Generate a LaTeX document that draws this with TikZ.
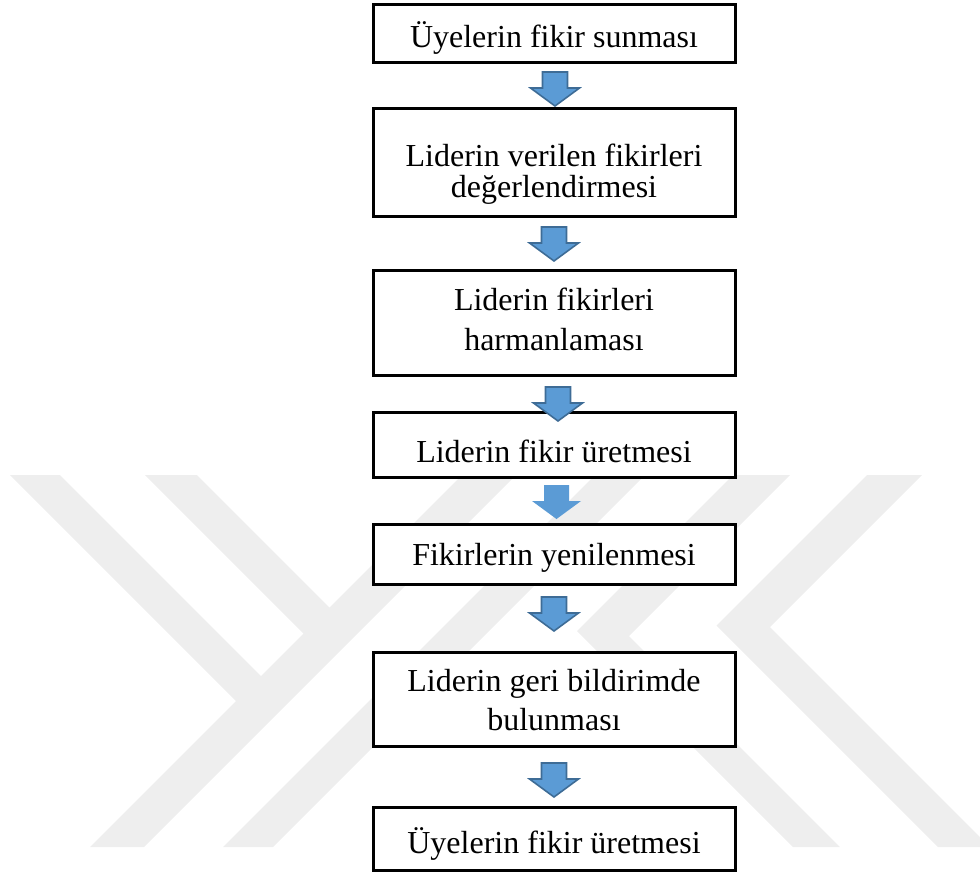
\documentclass[tikz,border=0pt]{standalone}
\usepackage{fontspec}
\setmainfont{Liberation Serif}
\usetikzlibrary{calc}
\definecolor{wm}{RGB}{238,238,238}
\definecolor{arrfill}{RGB}{91,155,213}
\definecolor{arrline}{RGB}{62,108,150}
\tikzset{
  box/.style={draw=black, line width=3pt, fill=white, minimum width=362pt, inner sep=0pt, outer sep=0pt},
  boxtext/.style={anchor=base, align=center, inner sep=0pt, font=\fontsize{32}{38}\selectfont},
  wmark/.style={fill=wm, draw=none},
  darrow/.style={fill=arrfill, draw=arrline, line width=1.6pt, line join=miter},
  softarrow/.style={fill=arrfill, draw=none},
  pics/downarrow/.style={code={\path[#1] (-12.5,0) -- (12.5,0) -- (12.5,16) -- (24.5,16) -- (0,34) -- (-24.5,16) -- (-12.5,16) -- cycle;}},
}
\begin{document}
\begin{tikzpicture}[x=1pt,y=-1pt]
\useasboundingbox (0,0) rectangle (980,873);
% watermark
\begin{scope}
  \clip (0,0) rectangle (980,873);
  \path[wmark] (90,847) -- (144,847) -- (516,475) -- (462,475) -- cycle;
  \path[wmark] (10,475) -- (60,475) -- (272.5,687.5) -- (247.5,712.5) -- cycle;
  \path[wmark] (145,475) -- (197,475) -- (341,619) -- (315,645) -- cycle;
  \path[wmark] (223,847) -- (273,847) -- (645,475) -- (595,475) -- cycle;
  \path[wmark] (867,475) -- (922,475) -- (770,627) -- (990,847) -- (938,847) -- (716.5,625.5) -- cycle;
  \path[wmark] (733,475) -- (790,475) -- (629,636) -- (840,847) -- (793,847) -- (577,631) -- cycle;
\end{scope}
% boxes
\node[box, minimum height=58pt]  (b1) at (554,33)    {};
\node[box, minimum height=108pt] (b2) at (554,162)   {};
\node[box, minimum height=105pt] (b3) at (554,322.5) {};
\node[box, minimum height=65pt]  (b4) at (554,444.5) {};
\node[box, minimum height=60pt]  (b5) at (554,554)   {};
\node[box, minimum height=94pt]  (b6) at (554,699)   {};
\node[box, minimum height=63pt]  (b7) at (554,838.5) {};
% texts (base = baseline of the last line)
\node[boxtext] (t1) at (554,47) {Üyelerin fikir sunması};
\node[boxtext, font=\fontsize{32}{30.5}\selectfont] (t2) at (554,197) {Liderin verilen fikirleri\\değerlendirmesi};
\node[boxtext, font=\fontsize{32}{40.5}\selectfont] (t3) at (554,350.5) {Liderin fikirleri\\harmanlaması};
\node[boxtext] (t4) at (554,462) {Liderin fikir üretmesi};
\node[boxtext] (t5) at (554,565) {Fikirlerin yenilenmesi};
\node[boxtext, font=\fontsize{32}{39}\selectfont] (t6) at (554,730.5) {Liderin geri bildirimde\\bulunması};
\node[boxtext] (t7) at (554,853) {Üyelerin fikir üretmesi};
% block arrows between boxes
\coordinate (a1) at (555,72);
\coordinate (a2) at (554,227);
\coordinate (a3) at (558,387);
\coordinate (a4) at (556.5,485);
\coordinate (a5) at (554,597);
\coordinate (a6) at (554,763);
\pic at (a1) {downarrow=darrow};
\pic at (a2) {downarrow=darrow};
\pic at (a3) {downarrow=darrow};
\pic at (a4) {downarrow=softarrow};
\pic at (a5) {downarrow=darrow};
\pic at (a6) {downarrow=darrow};
\end{tikzpicture}
\end{document}
